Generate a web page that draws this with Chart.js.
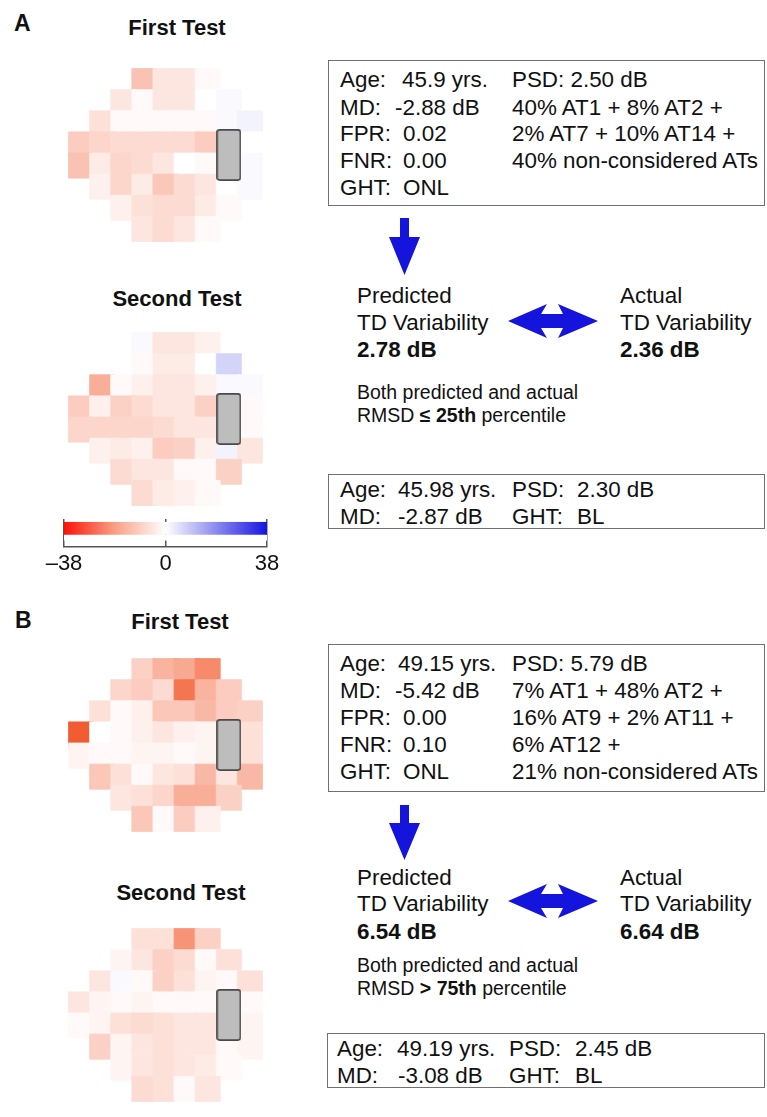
<!DOCTYPE html>
<html><head><meta charset="utf-8">
<script src="https://cdn.jsdelivr.net/npm/chart.js@4.4.0/dist/chart.umd.min.js"></script>
<style>
html,body{margin:0;padding:0;background:#fff;width:767px;height:1117px;overflow:hidden;}
body{position:relative;font-family:"Liberation Sans",Arial,Helvetica,sans-serif;color:#111;}
.t{position:absolute;white-space:pre;font-size:22.4px;line-height:27px;}
.s{position:absolute;white-space:pre;font-size:19.5px;line-height:23px;}
.h{position:absolute;white-space:pre;font-size:22px;line-height:26px;font-weight:bold;transform:translateX(-50%);}
.L{position:absolute;white-space:pre;font-size:23px;line-height:26px;font-weight:bold;}
.b{font-weight:bold;}
.box{position:absolute;border:1.5px solid #707070;box-sizing:border-box;}
canvas{position:absolute;}
</style></head>
<body>
<!-- Panel labels and titles -->
<div class="L" style="left:14px;top:10px;">A</div>
<div class="h" style="left:177px;top:15px;">First Test</div>
<div class="h" style="left:177px;top:286px;">Second Test</div>
<div class="L" style="left:15px;top:607px;">B</div>
<div class="h" style="left:180px;top:609px;">First Test</div>
<div class="h" style="left:181px;top:880px;">Second Test</div>

<canvas id="fA1" width="227" height="206" style="left:52px;top:52px;"></canvas>
<canvas id="fA2" width="227" height="206" style="left:52px;top:316px;"></canvas>
<canvas id="fB1" width="227" height="206" style="left:52px;top:642px;"></canvas>
<canvas id="fB2" width="227" height="206" style="left:52px;top:912px;"></canvas>
<canvas id="cbar" width="270" height="64" style="left:30px;top:515px;"></canvas>

<!-- Box A1 -->
<div class="box" style="left:328px;top:60px;width:437px;height:146px;"></div>
<div class="t" style="left:340px;top:66px;">Age:</div><div class="t" style="left:402px;top:66px;">45.9 yrs.</div><div class="t" style="left:512px;top:66px;">PSD: 2.50 dB</div>
<div class="t" style="left:340px;top:94px;">MD:</div><div class="t" style="left:395px;top:94px;">-2.88 dB</div><div class="t" style="left:512px;top:94px;">40% AT1 + 8% AT2 +</div>
<div class="t" style="left:340px;top:120px;">FPR:</div><div class="t" style="left:403px;top:120px;">0.02</div><div class="t" style="left:512px;top:120px;">2% AT7 + 10% AT14 +</div>
<div class="t" style="left:340px;top:147px;">FNR:</div><div class="t" style="left:403px;top:147px;">0.00</div><div class="t" style="left:512px;top:147px;">40% non-considered ATs</div>
<div class="t" style="left:340px;top:174px;">GHT:</div><div class="t" style="left:403px;top:174px;">ONL</div>

<!-- Middle A -->
<div class="t" style="left:357px;top:282px;">Predicted</div>
<div class="t" style="left:357px;top:309px;">TD Variability</div>
<div class="t b" style="left:357px;top:336px;">2.78 dB</div>
<div class="t" style="left:620px;top:282px;">Actual</div>
<div class="t" style="left:620px;top:309px;">TD Variability</div>
<div class="t b" style="left:620px;top:336px;">2.36 dB</div>
<div class="s" style="left:357px;top:381px;">Both predicted and actual</div>
<div class="s" style="left:357px;top:404px;">RMSD <span class="b">≤ 25th</span> percentile</div>

<!-- Box A2 -->
<div class="box" style="left:328px;top:474px;width:437px;height:55px;"></div>
<div class="t" style="left:340px;top:476px;">Age:</div><div class="t" style="left:398px;top:476px;">45.98 yrs.</div><div class="t" style="left:512px;top:476px;">PSD:</div><div class="t" style="left:577px;top:476px;">2.30 dB</div>
<div class="t" style="left:340px;top:503px;">MD:</div><div class="t" style="left:398px;top:503px;">-2.87 dB</div><div class="t" style="left:512px;top:503px;">GHT:</div><div class="t" style="left:577px;top:503px;">BL</div>

<!-- Box B1 -->
<div class="box" style="left:328px;top:644px;width:437px;height:148px;"></div>
<div class="t" style="left:340px;top:650px;">Age:</div><div class="t" style="left:398px;top:650px;">49.15 yrs.</div><div class="t" style="left:512px;top:650px;">PSD: 5.79 dB</div>
<div class="t" style="left:340px;top:677px;">MD:</div><div class="t" style="left:395px;top:677px;">-5.42 dB</div><div class="t" style="left:512px;top:677px;">7% AT1 + 48% AT2 +</div>
<div class="t" style="left:340px;top:704px;">FPR:</div><div class="t" style="left:403px;top:704px;">0.00</div><div class="t" style="left:512px;top:704px;">16% AT9 + 2% AT11 +</div>
<div class="t" style="left:340px;top:731px;">FNR:</div><div class="t" style="left:403px;top:731px;">0.10</div><div class="t" style="left:512px;top:731px;">6% AT12 +</div>
<div class="t" style="left:340px;top:758px;">GHT:</div><div class="t" style="left:403px;top:758px;">ONL</div><div class="t" style="left:512px;top:758px;">21% non-considered ATs</div>

<!-- Middle B -->
<div class="t" style="left:357px;top:864px;">Predicted</div>
<div class="t" style="left:357px;top:890px;">TD Variability</div>
<div class="t b" style="left:357px;top:918px;">6.54 dB</div>
<div class="t" style="left:620px;top:864px;">Actual</div>
<div class="t" style="left:620px;top:890px;">TD Variability</div>
<div class="t b" style="left:620px;top:918px;">6.64 dB</div>
<div class="s" style="left:357px;top:954px;">Both predicted and actual</div>
<div class="s" style="left:357px;top:977px;">RMSD <span class="b">&gt; 75th</span> percentile</div>

<!-- Box B2 -->
<div class="box" style="left:327px;top:1033px;width:438px;height:55px;"></div>
<div class="t" style="left:337px;top:1035px;">Age:</div><div class="t" style="left:397px;top:1035px;">49.19 yrs.</div><div class="t" style="left:509px;top:1035px;">PSD:</div><div class="t" style="left:575px;top:1035px;">2.45 dB</div>
<div class="t" style="left:337px;top:1062px;">MD:</div><div class="t" style="left:398px;top:1062px;">-3.08 dB</div><div class="t" style="left:509px;top:1062px;">GHT:</div><div class="t" style="left:575px;top:1062px;">BL</div>

<!-- Arrows -->
<svg width="767" height="1117" style="position:absolute;left:0;top:0;pointer-events:none;">
  <g fill="#1414DC">
    <polygon points="400,218 409,218 409,237 420,237 404.5,275 389,237 400,237"/>
    <polygon points="508,321 547,304 541,314 563,314 558,304 598,321 558,338 563,328 541,328 547,338"/>
    <polygon points="400,805 409,805 409,823 420,823 404.5,860 389,823 400,823"/>
    <polygon points="508,901 547,884 541,894 563,894 558,884 598,901 558,918 563,908 541,908 547,918"/>
  </g>
</svg>

<script>
// ---------- data ----------
// 24-2 visual field layout: first column index of each row (row 0 = top)
const rowFirstCol = [3, 2, 1, 0, 0, 1, 2, 3];
// blind spot (no value) column and rows
const blindSpotCol = 7;
const blindSpotRows = [3, 4];

// Total deviation values (dB) per row, first test / second test, panel A
const fieldA1 = [
  [-12, -5, -5, -1],
  [-5, -1, -5, -5, 0, 1],
  [-6, -1, -1, -1, -1, -1, 1, 2],
  [-10, -8, -7, -7, -7, -7, -10, null, 0],
  [-12, -4, -8, -7, -5, 0, -1, null, 1],
  [-3, -8, -4, -11, -7, -5, 0, 1],
  [-3, -6, -7, -7, -4, -1],
  [-5, -7, -5, -1]
];
const fieldA2 = [
  [1, -5, -5, -3],
  [0, -1, -4, -4, 0, 7],
  [-16, -1, -3, -5, -5, -3, 1, 1],
  [-10, -3, -9, -7, -5, -5, -9, null, -1],
  [-8, -8, -8, -8, -7, -5, -5, null, -1],
  [-3, -4, -3, -10, -9, -3, 2, -5],
  [-7, -5, -5, -1, -1, -9],
  [-7, -4, -3, -1]
];
// panel B
const fieldB1 = [
  [-9, -15, -17, -23],
  [-8, -10, -7, -27, -15, -10],
  [-6, -1, -3, -11, -11, -14, -10, -9],
  [-32, 0, -1, -3, -5, -3, -2, null, -6],
  [-2, -1, -1, -2, -2, -1, -2, null, -6],
  [-11, -6, -1, -5, -6, -14, -5, -14],
  [-5, -6, -8, -16, -16, -9],
  [-11, -1, -10, -3]
];
const fieldB2 = [
  [-6, -6, -21, -9],
  [-2, -5, -9, -7, -1, -6],
  [-5, 1, -1, -9, -6, -2, -1, -6],
  [-5, -2, -1, -2, -1, -1, -1, null, -1],
  [-1, -2, -6, -7, -6, -5, -5, null, -2],
  [-9, -2, -5, -6, -5, -5, -1, -2],
  [-2, -5, -6, -5, -4, -1],
  [-7, -6, -1, -5]
];
// colour scale
const scaleLimit = 38;
const colorbarTicks = [-38, 0, 38];

// ---------- drawing ----------
const NEG_END = [240, 62, 10];
const POS_END = [22, 20, 222];
function cellColor(v) {
  const t = Math.min(1, Math.abs(v) / scaleLimit);
  const end = v < 0 ? NEG_END : POS_END;
  const c = [0, 1, 2].map(k => Math.round(255 + (end[k] - 255) * t));
  return 'rgb(' + c.join(',') + ')';
}
function blindSpotImage(w, h) {
  const c = document.createElement('canvas');
  c.width = Math.round(w); c.height = Math.round(h);
  const g = c.getContext('2d');
  g.fillStyle = '#bdbdbd';
  g.strokeStyle = '#4a4a4a';
  g.lineWidth = 1.6;
  g.beginPath();
  if (g.roundRect) g.roundRect(0.9, 0.9, c.width - 1.8, c.height - 1.8, 2.5);
  else g.rect(0.9, 0.9, c.width - 1.8, c.height - 1.8);
  g.fill(); g.stroke();
  return c;
}
function drawField(id, rows) {
  const el = document.getElementById(id);
  const pts = [];
  rows.forEach((row, r) => row.forEach((v, i) => {
    if (v !== null) pts.push({ x: rowFirstCol[r] + i, y: r, v: v });
  }));
  const cw = el.width / 9, ch = el.height / 8;
  const side = (cw + ch) / 2 - 0.4;
  const bs = [{ x: blindSpotCol, y: (blindSpotRows[0] + blindSpotRows[1]) / 2 }];
  new Chart(el, {
    type: 'scatter',
    data: { datasets: [
      { data: bs, pointStyle: blindSpotImage(cw, ch * 2), pointRadius: 5, pointHoverRadius: 5, clip: false },
      { data: pts, pointStyle: 'rect', pointRadius: side / Math.SQRT2, pointHoverRadius: side / Math.SQRT2,
        pointBackgroundColor: c => cellColor(c.raw.v), pointBorderColor: c => cellColor(c.raw.v),
        pointBorderWidth: 0.8, clip: false }
    ]},
    options: {
      responsive: false, animation: false, devicePixelRatio: 1, events: [],
      layout: { padding: 0 },
      plugins: { legend: { display: false }, tooltip: { enabled: false } },
      scales: {
        x: { type: 'linear', min: -0.5, max: 8.5, display: false },
        y: { type: 'linear', min: -0.5, max: 7.5, reverse: true, display: false }
      }
    }
  });
}
drawField('fA1', fieldA1);
drawField('fA2', fieldA2);
drawField('fB1', fieldB1);
drawField('fB2', fieldB2);

// colour bar
new Chart(document.getElementById('cbar'), {
  type: 'bar',
  data: { datasets: [{
    data: [{ x: [colorbarTicks[0], colorbarTicks[colorbarTicks.length - 1]], y: 9.5 }],
    backgroundColor: (c) => {
      const ch = c.chart, xs = ch.scales.x;
      if (!ch.chartArea || !xs) return '#fff';
      const x0 = xs.getPixelForValue(-scaleLimit), x1 = xs.getPixelForValue(scaleLimit);
      const g = ch.ctx.createLinearGradient(x0, 0, x1, 0);
      g.addColorStop(0, 'rgb(250,20,8)');
      g.addColorStop(0.25, cellColor(-scaleLimit / 2));
      g.addColorStop(0.5, cellColor(0));
      g.addColorStop(1, cellColor(scaleLimit));
      return g;
    },
    borderColor: '#ffffff',
    borderWidth: { top: 0, left: 0, right: 0, bottom: 6 },
    borderSkipped: false,
    inflateAmount: 0,
    barThickness: 19
  }]},
  options: {
    indexAxis: 'y', responsive: false, animation: false, devicePixelRatio: 1, events: [],
    layout: { padding: { left: 34, right: 33, top: 4, bottom: 3.6 } },
    plugins: { legend: { display: false }, tooltip: { enabled: false } },
    scales: {
      x: {
        type: 'linear', min: -scaleLimit, max: scaleLimit,
        afterBuildTicks: s => { s.ticks = colorbarTicks.map(v => ({ value: v })); },
        ticks: {
          callback: v => (v < 0 ? '\u2013' + Math.abs(v) : String(v)),
          font: { family: '"Liberation Sans", Arial, sans-serif', size: 22 },
          color: '#111', padding: 4, maxRotation: 0, autoSkip: false
        },
        grid: { color: '#555', lineWidth: 1.5, drawTicks: false },
        border: { color: '#555', width: 1.5 }
      },
      y: { type: 'linear', min: 0, max: 26, reverse: true, display: false }
    }
  }
});
</script>
</body></html>
